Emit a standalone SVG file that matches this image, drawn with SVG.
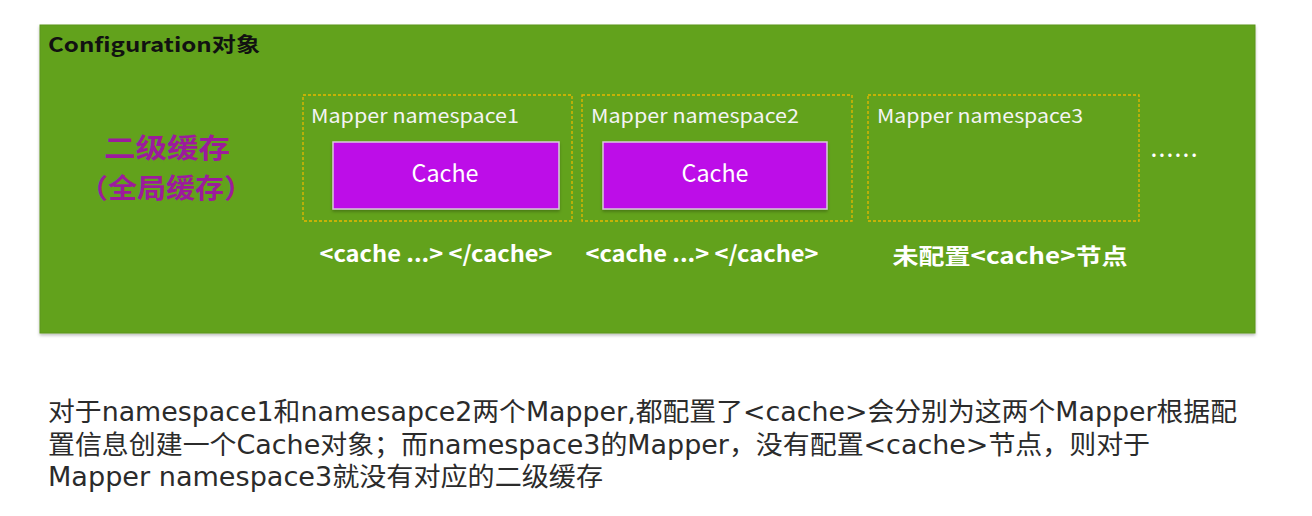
<svg xmlns="http://www.w3.org/2000/svg" width="1312" height="516" viewBox="0 0 1312 516">
<defs>
<style>
.cjk{font-family:"Noto Sans CJK SC","Noto Sans",sans-serif}
.wide{font-family:"DejaVu Sans","Noto Sans CJK SC",sans-serif}
.ns{fill:none;stroke:#e6b800;stroke-width:1.3;stroke-dasharray:3 2}
.cache{fill:#bd0ce8;stroke:#d8c8dc;stroke-width:1.5}
.lbl{fill:#f4f4f4;font-size:19px}
.ctext{fill:#ffffff;font-size:24px;text-anchor:middle}
.tag{fill:#ffffff;font-size:22px;font-weight:bold;text-anchor:middle}
.body{fill:#2b2b2b;font-size:26px}
.l2{fill:#9c1b9c;font-size:27px;font-weight:bold;text-anchor:middle}
</style>
<filter id="sh" x="-5%" y="-5%" width="110%" height="115%">
<feDropShadow dx="0" dy="2" stdDeviation="1.5" flood-color="#000" flood-opacity="0.25"/>
</filter>
</defs>
<rect width="1312" height="516" fill="#ffffff"/>
<g id="configuration">
<rect x="40" y="25" width="1215" height="308" fill="#62a21e" stroke="#5a951b" stroke-width="1" filter="url(#sh)"/>
<text class="cjk" x="48" y="52" font-size="20" font-weight="bold" fill="#111" textLength="212" lengthAdjust="spacingAndGlyphs">Configuration对象</text>
<text class="cjk l2" x="167" y="158" textLength="126" lengthAdjust="spacingAndGlyphs">二级缓存</text>
<text class="cjk l2" x="166" y="198" textLength="174" lengthAdjust="spacingAndGlyphs">（全局缓存）</text>
<text class="cjk" x="1151" y="157" font-size="18" font-weight="bold" fill="#ffffff" textLength="46">......</text>
</g>
<g id="mapper1">
<rect class="ns" x="303" y="95" width="269" height="126"/>
<text class="cjk lbl" x="311" y="123" textLength="208" lengthAdjust="spacingAndGlyphs">Mapper  namespace1</text>
<rect class="cache" x="333" y="142" width="226" height="67" filter="url(#sh)"/>
<text class="cjk ctext" x="445" y="182" textLength="67" lengthAdjust="spacingAndGlyphs">Cache</text>
<text class="cjk tag" x="436" y="262" textLength="233" lengthAdjust="spacingAndGlyphs">&lt;cache ...&gt; &lt;/cache&gt;</text>
</g>
<g id="mapper2">
<rect class="ns" x="582" y="95" width="270" height="126"/>
<text class="cjk lbl" x="591" y="123" textLength="208" lengthAdjust="spacingAndGlyphs">Mapper  namespace2</text>
<rect class="cache" x="603" y="142" width="224" height="67" filter="url(#sh)"/>
<text class="cjk ctext" x="715" y="182" textLength="67" lengthAdjust="spacingAndGlyphs">Cache</text>
<text class="cjk tag" x="702" y="262" textLength="233" lengthAdjust="spacingAndGlyphs">&lt;cache ...&gt; &lt;/cache&gt;</text>
</g>
<g id="mapper3">
<rect class="ns" x="868" y="95" width="271" height="126"/>
<text class="cjk lbl" x="877" y="123" textLength="206" lengthAdjust="spacingAndGlyphs">Mapper  namespace3</text>
<text class="cjk tag" x="1010" y="264" font-size="26" textLength="235" lengthAdjust="spacingAndGlyphs">未配置&lt;cache&gt;节点</text>
</g>
<g id="connectors"></g>
<g id="description">
<text class="wide body" x="48" y="421" textLength="1189" lengthAdjust="spacingAndGlyphs">对于namespace1和namesapce2两个Mapper,都配置了&lt;cache&gt;会分别为这两个Mapper根据配</text>
<text class="wide body" x="48" y="454" textLength="1102" lengthAdjust="spacingAndGlyphs">置信息创建一个Cache对象；而namespace3的Mapper，没有配置&lt;cache&gt;节点，则对于</text>
<text class="wide body" x="48" y="486" textLength="555" lengthAdjust="spacingAndGlyphs">Mapper namespace3就没有对应的二级缓存</text>
</g>
</svg>
